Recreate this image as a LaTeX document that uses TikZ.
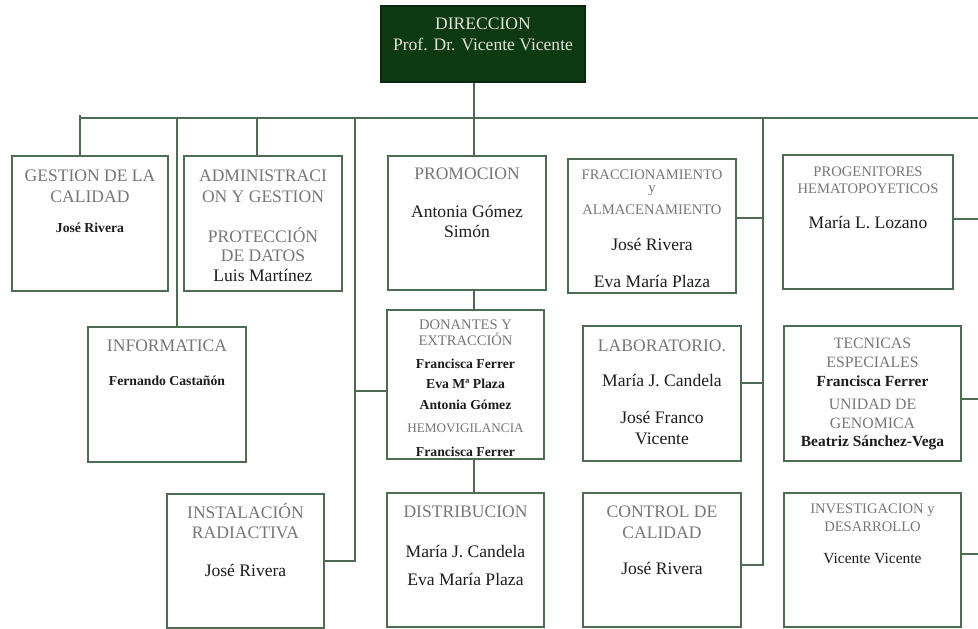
\documentclass[tikz,border=0pt]{standalone}
\usepackage{fontspec}
\setmainfont{Liberation Serif}
\usetikzlibrary{fit,positioning}
\definecolor{lineg}{RGB}{78,108,84}
\definecolor{dirg}{RGB}{14,58,18}
\definecolor{hdgray}{RGB}{118,118,118}
\definecolor{nmblack}{RGB}{28,28,28}
\definecolor{dirtxt}{RGB}{226,226,214}

\tikzset{
  box/.style={draw=lineg, line width=1.1pt, inner sep=0pt},
  conn/.style={draw=lineg, line width=0.9pt},
  hdtxt/.style={align=center, anchor=base, inner sep=0pt, text=hdgray, font=\fontsize{10}{11.9}\selectfont},
  hdsm/.style={hdtxt, font=\fontsize{8.3}{9.6}\selectfont},
  nmtxt/.style={align=center, anchor=base, inner sep=0pt, text=nmblack, font=\fontsize{10}{11.6}\selectfont},
  nmsm/.style={nmtxt, font=\fontsize{7.8}{11.6}\selectfont\bfseries},
}

\begin{document}
\begin{tikzpicture}[x=0.02cm, y=-0.02cm]
\useasboundingbox (0,0) rectangle (978,629);

% direccion
\node[box, fill=dirg, draw=dirg!70!black, fit={(381,6) (585,82)}] (dir) {};
\node[nmtxt, text=dirtxt, font=\fontsize{10}{11.9}\selectfont] (dirT) at (483,50) {DIRECCION\\Prof. Dr. Vicente Vicente};

% cajas
\node[box, fit={(12,156) (168,291)}] (gest) {};
\node[box, fit={(184,156) (342,291)}] (admin) {};
\node[box, fit={(88,327) (246,462)}] (info) {};
\node[box, fit={(167,494) (324,628)}] (inst) {};
\node[box, fit={(388,156) (546,290)}] (prom) {};
\node[box, fit={(387,310) (544,459)}] (don) {};
\node[box, fit={(387,493) (544,627)}] (dist) {};
\node[box, fit={(568,159) (736,293)}] (fracc) {};
\node[box, fit={(583,326) (741,461)}] (lab) {};
\node[box, fit={(583,493) (741,627)}] (ctrl) {};
\node[box, fit={(783,155) (953,289)}] (prog) {};
\node[box, fit={(784,326) (961,461)}] (tec) {};
\node[box, fit={(784,493) (961,627)}] (inv) {};

% textos (base = ultima linea)
\node[hdtxt] (gestH) at (90,202) {GESTION DE LA\\CALIDAD};
\node[nmsm] (gestN) at (90,232) {José Rivera};

\node[hdtxt] (adminH) at (263,202) {ADMINISTRACI\\ON Y GESTION};
\node[hdtxt, font=\fontsize{10}{10.8}\selectfont] (protH) at (263,261) {PROTECCIÓN\\DE DATOS};
\node[nmtxt] (adminN) at (263,281) {Luis Martínez};

\node[hdtxt] (infoH) at (167,351) {INFORMATICA};
\node[nmsm] (infoN) at (167,385) {Fernando Castañón};

\node[hdtxt, font=\fontsize{10}{11.3}\selectfont] (instH) at (245.5,538) {INSTALACIÓN\\RADIACTIVA};
\node[nmtxt] (instN) at (245.5,576) {José Rivera};

\node[hdtxt] (promH) at (467,179) {PROMOCION};
\node[nmtxt, font=\fontsize{10}{11.3}\selectfont] (promN) at (467,237) {Antonia Gómez\\Simón};

\node[hdsm, font=\fontsize{8.3}{9.1}\selectfont] (donH) at (465.5,345) {DONANTES Y\\EXTRACCIÓN};
\node[nmsm] (donN) at (465.5,409) {Francisca Ferrer\\Eva Mª Plaza\\Antonia Gómez};
\node[hdsm, font=\fontsize{7.5}{9}\selectfont] (hemoH) at (465.5,432) {HEMOVIGILANCIA};
\node[nmsm] (hemoN) at (465.5,456) {Francisca Ferrer};

\node[hdtxt] (distH) at (465.5,517) {DISTRIBUCION};
\node[nmtxt] (distN) at (465.5,585) {María J. Candela\\[4.3pt]Eva María Plaza};

\node[hdsm, font=\fontsize{8.3}{7.4}\selectfont] (fraccH) at (652,214) {FRACCIONAMIENTO\\y\\[5.1pt]ALMACENAMIENTO};
\node[nmtxt] (fraccN) at (652,287) {José Rivera\\[9.4pt]Eva María Plaza};

\node[hdtxt] (labH) at (662,351) {LABORATORIO.};
\node[nmtxt] (labN) at (662,444) {María J. Candela\\[9.4pt]José Franco\\Vicente};

\node[hdtxt] (ctrlH) at (662,538) {CONTROL DE\\CALIDAD};
\node[nmtxt] (ctrlN) at (662,574) {José Rivera};

\node[hdsm] (progH) at (868,193) {PROGENITORES\\HEMATOPOYETICOS};
\node[nmtxt] (progN) at (868,228) {María L. Lozano};

\node[hdsm, font=\fontsize{9}{10.8}\selectfont] (tecH) at (872.5,367) {TECNICAS\\ESPECIALES};
\node[nmsm, font=\fontsize{8.8}{10}\selectfont\bfseries] (tecN) at (872.5,386) {Francisca Ferrer};
\node[hdsm, font=\fontsize{9}{10.8}\selectfont] (genH) at (872.5,428) {UNIDAD DE\\GENOMICA};
\node[nmsm, font=\fontsize{8.8}{10}\selectfont\bfseries] (genN) at (872.5,446) {Beatriz Sánchez-Vega};

\node[hdsm, font=\fontsize{8.3}{10.2}\selectfont] (invH) at (872.5,531) {INVESTIGACION y\\DESARROLLO};
\node[nmtxt, font=\fontsize{8.8}{10}\selectfont] (invN) at (872.5,563) {Vicente Vicente};

% lineas
\coordinate (busL) at (80,118);
\coordinate (busR) at (978,118);
\coordinate (trunk) at (474,118);
\coordinate (t2) at (177,118);
\coordinate (t3) at (257,118);
\coordinate (t4) at (355,118);
\coordinate (t5) at (763,118);
\draw[conn] (busL) -- (busR);
\draw[conn] (dir.south -| trunk) -- (prom.north -| trunk);
\draw[conn] (prom.south -| trunk) -- (don.north -| trunk);
\draw[conn] (don.south -| trunk) -- (dist.north -| trunk);
\draw[conn] ([yshift=1.5pt]busL) -- (gest.north -| busL);
\draw[conn] (t2) -- (info.north -| t2);
\draw[conn] (t3) -- (admin.north -| t3);
\draw[conn] (t4) |- (inst.east);
\draw[conn] ([yshift=-3.7pt]don.west) -- ([yshift=-3.7pt]don.west -| t4);
\draw[conn] (t5) |- ([yshift=-2.8pt]ctrl.east);
\draw[conn] ([yshift=4.5pt]fracc.east) -- ([yshift=4.5pt]fracc.east -| t5);
\draw[conn] ([yshift=6pt]lab.east) -- ([yshift=6pt]lab.east -| t5);
\draw[conn] ([yshift=1.7pt]prog.east) -- ([yshift=1.7pt]prog.east -| busR);
\draw[conn] ([yshift=-3.1pt]tec.east) -- ([yshift=-3.1pt]tec.east -| busR);
\draw[conn] ([yshift=3.4pt]inv.east) -- ([yshift=3.4pt]inv.east -| busR);
\end{tikzpicture}
\end{document}
